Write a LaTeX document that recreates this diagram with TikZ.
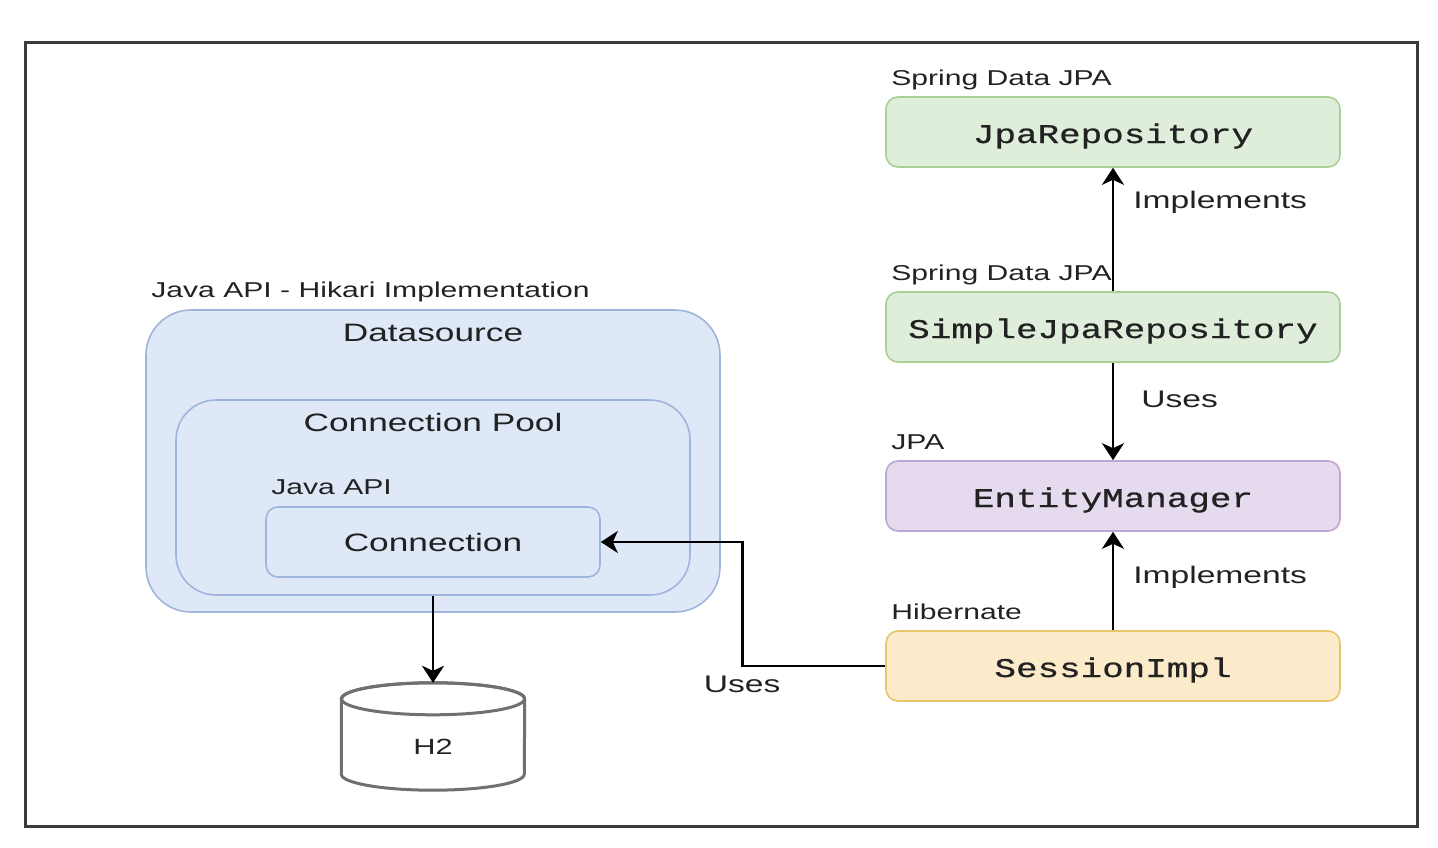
\documentclass[tikz,border=0pt]{standalone}
\usepackage{fontspec}
\setmainfont{Liberation Sans}[FakeStretch=1.4]
\newfontfamily\codefont{Liberation Mono}[FakeStretch=1.33,FakeBold=0.7]
\usetikzlibrary{arrows.meta,calc}
\definecolor{txt}{HTML}{222222}
\definecolor{bluefill}{HTML}{DFE8F7}
\definecolor{blueline}{HTML}{A0B5DB}
\definecolor{greenfill}{HTML}{DFEEDB}
\definecolor{greenline}{HTML}{A9CF95}
\definecolor{purplefill}{HTML}{E6DBEE}
\definecolor{purpleline}{HTML}{BFA6CF}
\definecolor{yellowfill}{HTML}{FCEBCB}
\definecolor{yellowline}{HTML}{E8C56C}
\definecolor{framecol}{HTML}{3A3A3A}
\definecolor{cylline}{HTML}{707070}
\tikzset{
  x=1pt, y=-1pt,
  every node/.style={text=txt, inner sep=0pt},
  codebox/.style={rounded corners=12pt, line width=1.6pt, minimum width=454pt, minimum height=70pt,
     text height=22pt, text depth=0pt,
     font=\codefont\fontsize{27}{32}\selectfont},
  bluebox/.style={rounded corners=#1, line width=1.6pt, draw=blueline, fill=bluefill},
  tag/.style={anchor=base west, font=\fontsize{21.5}{25}\selectfont},
  big/.style={font=\fontsize{25.2}{29}\selectfont},
  arr/.style={line width=2.6pt, draw=black, -{Stealth[length=17pt,width=22pt,inset=5pt]}},
  lbl/.style={font=\fontsize{24}{28}\selectfont},
  cyl/.style={draw=cylline, fill=white, line width=3pt}
}
\begin{document}
\begin{tikzpicture}
\useasboundingbox (0,0) rectangle (1438,848);
\draw[framecol, line width=3pt] (25,43) rectangle (1417,826);

% left group
\node[bluebox=45pt, minimum width=574pt, minimum height=302pt] (ds) at (433,461) {};
\node[tag] (dslbl) at ([xshift=6pt,yshift=12pt]ds.north west) {Java API - Hikari Implementation};
\node[big] (dstitle) at (433,333) {Datasource};
\node[bluebox=40pt, minimum width=514pt, minimum height=195pt] (pool) at (433,497.5) {};
\node[big] (pooltitle) at (433,422) {Connection Pool};
\node[bluebox=12pt, minimum width=334pt, minimum height=70pt, big] (conn) at (433,542) {Connection};
\node[tag] (connlbl) at ([xshift=6pt,yshift=12pt]conn.north west) {Java API};

% database cylinder
\node[minimum width=183pt, minimum height=107pt] (h2) at (433,736.5) {};
\path[cyl] ($(h2.north west)+(0,16)$) -- ($(h2.south west)+(0,-16)$)
   arc[start angle=180, end angle=360, x radius=91.5pt, y radius=16pt]
   -- ($(h2.north east)+(0,16)$)
   arc[start angle=0, end angle=180, x radius=91.5pt, y radius=16pt] -- cycle;
\draw[cyl, fill=none] ($(h2.north)+(0,16)$) ellipse[x radius=91.5pt, y radius=16pt];
\node[text height=36pt, text depth=0pt, font=\fontsize{22}{26}\selectfont] (h2text) at (h2.center) {H2};
\draw[arr] (pool.south) -- (h2.north);

% right column
\node[codebox, draw=greenline, fill=greenfill] (jpa) at (1113,132) {JpaRepository};
\node[codebox, draw=greenline, fill=greenfill] (simple) at (1113,327) {SimpleJpaRepository};
\node[codebox, draw=purpleline, fill=purplefill] (em) at (1113,496) {EntityManager};
\node[codebox, draw=yellowline, fill=yellowfill] (sess) at (1113,666) {SessionImpl};

\node[tag] (jpalbl) at ([xshift=6pt,yshift=11pt]jpa.north west) {Spring Data JPA};
\node[tag] (simplelbl) at ([xshift=6pt,yshift=11pt]simple.north west) {Spring Data JPA};
\node[tag] (emlbl) at ([xshift=6pt,yshift=11pt]em.north west) {JPA};
\node[tag] (sesslbl) at ([xshift=6pt,yshift=11pt]sess.north west) {Hibernate};

\draw[arr] (simple.north) -- node[lbl, anchor=west, pos=0.72, xshift=19pt] {Implements} (jpa.south);
\draw[arr] (simple.south) -- node[lbl, anchor=west, pos=0.38, xshift=27pt] {Uses} (em.north);
\draw[arr] (sess.north) -- node[lbl, anchor=west, pos=0.54, xshift=19pt] {Implements} (em.south);
\draw[arr] (sess.west) -- ++(-143,0) node[lbl, below, yshift=-9pt] {Uses} |- (conn.east);
\end{tikzpicture}
\end{document}
